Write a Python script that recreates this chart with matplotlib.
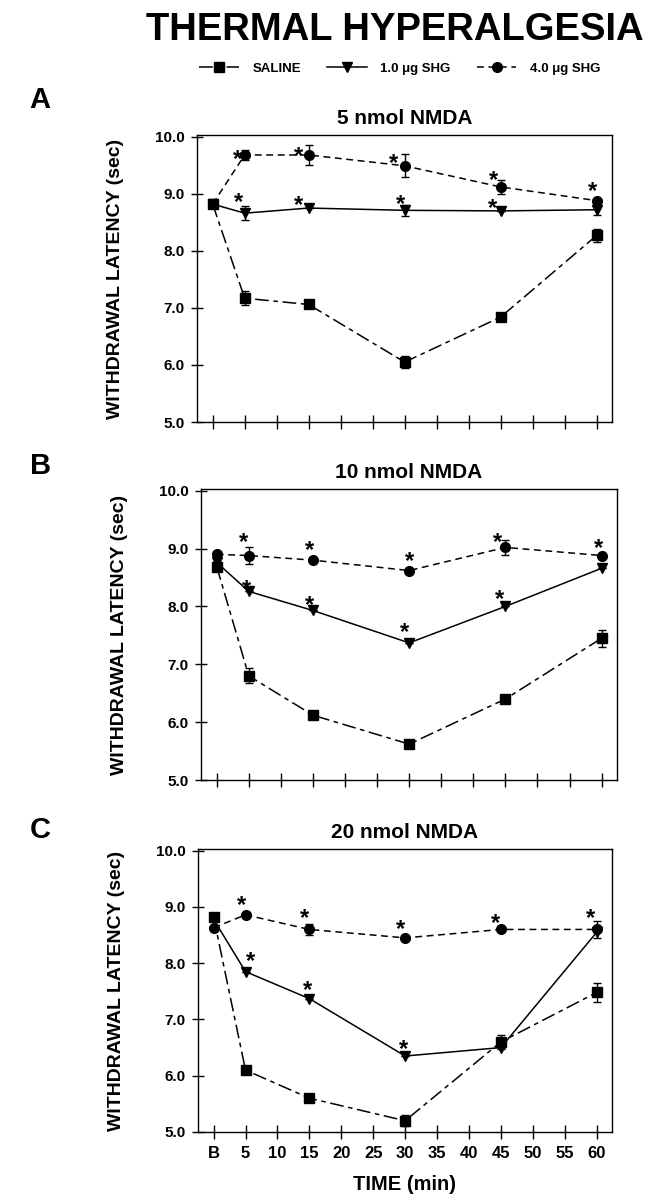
import matplotlib
matplotlib.use("Agg")
import matplotlib.pyplot as plt

plt.rcParams['font.family'] = ['Liberation Sans', 'DejaVu Sans']
plt.rcParams['font.weight'] = 'bold'

# time points (B = baseline at 0)
times = [0, 5, 15, 30, 45, 60]
tick_pos = [0, 5, 10, 15, 20, 25, 30, 35, 40, 45, 50, 55, 60]
tick_lbl = ['B', '5', '10', '15', '20', '25', '30', '35', '40', '45', '50', '55', '60']
panel_titles = ['5 nmol NMDA', '10 nmol NMDA', '20 nmol NMDA']
panel_letters = ['A', 'B', 'C']

# withdrawal latency (sec), panels A, B, C
saline = [[8.82, 7.17, 7.06, 6.05, 6.84, 8.27],
          [8.69, 6.80, 6.12, 5.62, 6.40, 7.45],
          [8.82, 6.10, 5.60, 5.20, 6.60, 7.48]]
saline_err = [[0, 0.12, 0, 0.10, 0, 0.12],
              [0, 0.13, 0, 0, 0, 0.15],
              [0, 0, 0, 0.10, 0.12, 0.17]]
shg1 = [[8.82, 8.66, 8.75, 8.71, 8.70, 8.72],
        [8.76, 8.26, 7.93, 7.37, 8.00, 8.66],
        [8.78, 7.85, 7.37, 6.35, 6.50, 8.55]]
shg1_err = [[0, 0.12, 0, 0.10, 0, 0.10],
            [0, 0, 0, 0, 0, 0],
            [0, 0, 0, 0, 0, 0]]
shg4 = [[8.82, 9.68, 9.68, 9.49, 9.12, 8.88],
        [8.90, 8.88, 8.80, 8.62, 9.02, 8.88],
        [8.63, 8.86, 8.60, 8.45, 8.60, 8.60]]
shg4_err = [[0, 0.08, 0.18, 0.20, 0.12, 0],
            [0, 0.15, 0, 0, 0.13, 0],
            [0, 0, 0.10, 0, 0, 0.15]]

# significance stars: (time index, dx px, dy px) relative to the point
stars_shg4 = [[(1, -7, 3), (2, -10, 6), (3, -11, 9), (4, -7, 14), (5, -4, 16)],
              [(1, -5, 20), (2, -3, 17), (3, 0, 16), (4, -8, 12), (5, -3, 14)],
              [(1, -4, 16), (2, -5, 18), (3, -5, 16), (4, -5, 13), (5, -6, 18)]]
stars_shg1 = [[(1, -6, 18), (2, -10, 10), (3, -4, 13), (4, -8, 10)],
              [(1, -2, 9), (2, -3, 12), (3, -5, 18), (4, -6, 14)],
              [(1, 5, 17), (2, -2, 15), (3, -2, 14)]]

fig = plt.figure(figsize=(6.49, 12), dpi=100)
axes_rects = [[0.3035, 0.6483, 0.6395, 0.2392],
              [0.3097, 0.3500, 0.6410, 0.2425],
              [0.3050, 0.0567, 0.6380, 0.2358]]
letter_y = [0.917, 0.612, 0.308]

ls_saline = (0, (9, 3, 3, 3))
ls_shg4 = (0, (4.5, 3))
px = 0.72  # px -> points
star_size = 17

for i in range(3):
    ax = fig.add_axes(axes_rects[i])
    h1 = ax.errorbar(times, saline[i], yerr=saline_err[i], color='black', lw=1.1,
                     linestyle=ls_saline, marker='s', ms=7, capsize=3, elinewidth=1)
    h2 = ax.errorbar(times, shg1[i], yerr=shg1_err[i], color='black', lw=1.1,
                     linestyle='-', marker='v', ms=7, capsize=3, elinewidth=1)
    h3 = ax.errorbar(times, shg4[i], yerr=shg4_err[i], color='black', lw=1.1,
                     linestyle=ls_shg4, marker='o', ms=7, capsize=3, elinewidth=1)
    for series, stars in ((shg4[i], stars_shg4[i]), (shg1[i], stars_shg1[i])):
        for k, dx, dy in stars:
            # glyph sits ~0.58 em above baseline
            ax.annotate('*', (times[k], series[k]),
                        xytext=(dx * px, dy * px - 0.58 * star_size),
                        textcoords='offset points', ha='center', va='baseline',
                        fontsize=star_size, fontweight='bold')

    ax.set_xlim(-2.45, 62.4)
    ax.set_ylim(5.0, 10.03)
    ax.set_yticks([5, 6, 7, 8, 9, 10])
    ax.set_yticklabels(['5.0', '6.0', '7.0', '8.0', '9.0', '10.0'], fontsize=11, fontweight='bold')
    ax.set_xticks(tick_pos)
    ax.tick_params(axis='x', direction='inout', length=10, width=1)
    ax.tick_params(axis='y', direction='inout', length=8, width=1, pad=5)
    if i == 2:
        ax.set_xticklabels(tick_lbl, fontsize=12, fontweight='bold')
        ax.tick_params(axis='x', pad=5)
        ax.set_xlabel('TIME (min)', fontsize=14.5, fontweight='bold', labelpad=10)
    else:
        ax.set_xticklabels([])
    ax.set_ylabel('WITHDRAWAL LATENCY (sec)', fontsize=14, fontweight='heavy', labelpad=22)
    ax.set_title(panel_titles[i], fontsize=15, fontweight='bold', pad=8)
    for s in ax.spines.values():
        s.set_linewidth(1)
    fig.text(0.062, letter_y[i], panel_letters[i], fontsize=21, fontweight='bold',
             ha='center', va='center')
    if i == 0:
        handles = [h1[0], h2[0], h3[0]]

fig.text(0.609, 0.975, 'THERMAL HYPERALGESIA', fontsize=27.5, fontweight='bold',
         ha='center', va='center')
fig.legend(handles=handles, labels=['SALINE', '1.0 μg SHG', '4.0 μg SHG'],
           loc='center', bbox_to_anchor=(0.616, 0.943), ncol=3, frameon=False,
           handlelength=3, columnspacing=2.0, handletextpad=1.0,
           prop={'weight': 'bold', 'size': 9.5})

fig.savefig('out.png', dpi=100)
